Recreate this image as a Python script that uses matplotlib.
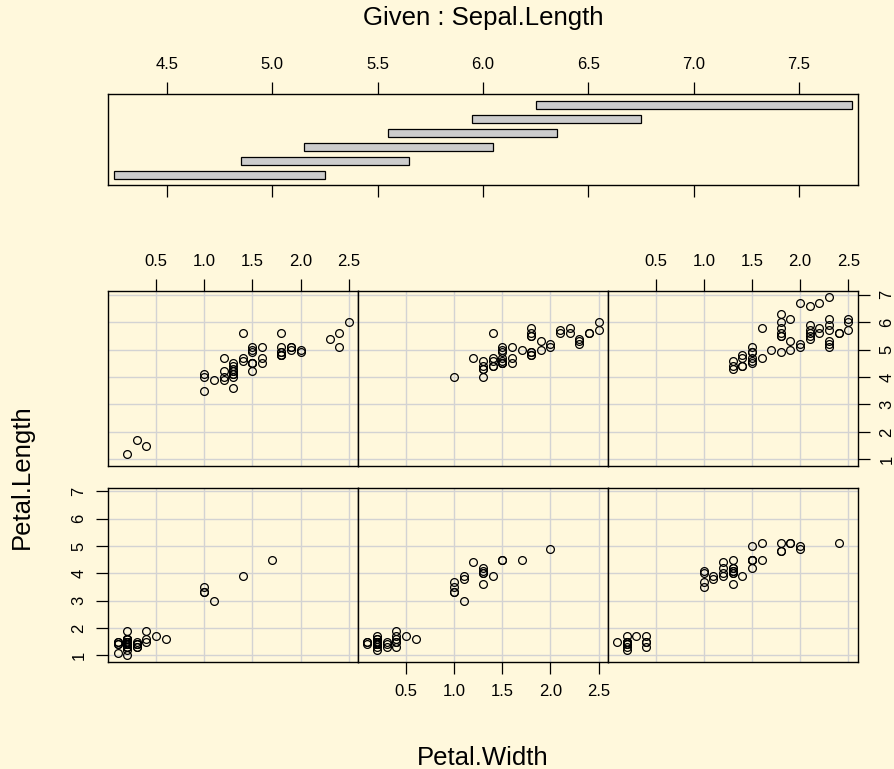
import matplotlib
matplotlib.use("Agg")
import matplotlib.pyplot as plt

plt.rcParams['font.family'] = ['Liberation Sans', 'DejaVu Sans']

# iris measurements, row order as in the dataset
sepal_length = [
    5.1, 4.9, 4.7, 4.6, 5.0, 5.4, 4.6, 5.0, 4.4, 4.9,
    5.4, 4.8, 4.8, 4.3, 5.8, 5.7, 5.4, 5.1, 5.7, 5.1,
    5.4, 5.1, 4.6, 5.1, 4.8, 5.0, 5.0, 5.2, 5.2, 4.7,
    4.8, 5.4, 5.2, 5.5, 4.9, 5.0, 5.5, 4.9, 4.4, 5.1,
    5.0, 4.5, 4.4, 5.0, 5.1, 4.8, 5.1, 4.6, 5.3, 5.0,
    7.0, 6.4, 6.9, 5.5, 6.5, 5.7, 6.3, 4.9, 6.6, 5.2,
    5.0, 5.9, 6.0, 6.1, 5.6, 6.7, 5.6, 5.8, 6.2, 5.6,
    5.9, 6.1, 6.3, 6.1, 6.4, 6.6, 6.8, 6.7, 6.0, 5.7,
    5.5, 5.5, 5.8, 6.0, 5.4, 6.0, 6.7, 6.3, 5.6, 5.5,
    5.5, 6.1, 5.8, 5.0, 5.6, 5.7, 5.7, 6.2, 5.1, 5.7,
    6.3, 5.8, 7.1, 6.3, 6.5, 7.6, 4.9, 7.3, 6.7, 7.2,
    6.5, 6.4, 6.8, 5.7, 5.8, 6.4, 6.5, 7.7, 7.7, 6.0,
    6.9, 5.6, 7.7, 6.3, 6.7, 7.2, 6.2, 6.1, 6.4, 7.2,
    7.4, 7.9, 6.4, 6.3, 6.1, 7.7, 6.3, 6.4, 6.0, 6.9,
    6.7, 6.9, 5.8, 6.8, 6.7, 6.7, 6.3, 6.5, 6.2, 5.9,
]
petal_length = [
    1.4, 1.4, 1.3, 1.5, 1.4, 1.7, 1.4, 1.5, 1.4, 1.5,
    1.5, 1.6, 1.4, 1.1, 1.2, 1.5, 1.3, 1.4, 1.7, 1.5,
    1.7, 1.5, 1.0, 1.7, 1.9, 1.6, 1.6, 1.5, 1.4, 1.6,
    1.6, 1.5, 1.5, 1.4, 1.5, 1.2, 1.3, 1.4, 1.3, 1.5,
    1.3, 1.3, 1.3, 1.6, 1.9, 1.4, 1.6, 1.4, 1.5, 1.4,
    4.7, 4.5, 4.9, 4.0, 4.6, 4.5, 4.7, 3.3, 4.6, 3.9,
    3.5, 4.2, 4.0, 4.7, 3.6, 4.4, 4.5, 4.1, 4.5, 3.9,
    4.8, 4.0, 4.9, 4.7, 4.3, 4.4, 4.8, 5.0, 4.5, 3.5,
    3.8, 3.7, 3.9, 5.1, 4.5, 4.5, 4.7, 4.4, 4.1, 4.0,
    4.4, 4.6, 4.0, 3.3, 4.2, 4.2, 4.2, 4.3, 3.0, 4.1,
    6.0, 5.1, 5.9, 5.6, 5.8, 6.6, 4.5, 6.3, 5.8, 6.1,
    5.1, 5.3, 5.5, 5.0, 5.1, 5.3, 5.5, 6.7, 6.9, 5.0,
    5.7, 4.9, 6.7, 4.9, 5.7, 6.0, 4.8, 4.9, 5.6, 5.8,
    6.1, 6.4, 5.6, 5.1, 5.6, 6.1, 5.6, 5.5, 4.8, 5.4,
    5.6, 5.1, 5.1, 5.9, 5.7, 5.2, 5.0, 5.2, 5.4, 5.1,
]
petal_width = [
    0.2, 0.2, 0.2, 0.2, 0.2, 0.4, 0.3, 0.2, 0.2, 0.1,
    0.2, 0.2, 0.1, 0.1, 0.2, 0.4, 0.4, 0.3, 0.3, 0.3,
    0.2, 0.4, 0.2, 0.5, 0.2, 0.2, 0.4, 0.2, 0.2, 0.2,
    0.2, 0.4, 0.1, 0.2, 0.2, 0.2, 0.2, 0.1, 0.2, 0.2,
    0.3, 0.3, 0.2, 0.6, 0.4, 0.3, 0.2, 0.2, 0.2, 0.2,
    1.4, 1.5, 1.5, 1.3, 1.5, 1.3, 1.6, 1.0, 1.3, 1.4,
    1.0, 1.5, 1.0, 1.4, 1.3, 1.4, 1.5, 1.0, 1.5, 1.1,
    1.8, 1.3, 1.5, 1.2, 1.3, 1.4, 1.4, 1.7, 1.5, 1.0,
    1.1, 1.0, 1.2, 1.6, 1.5, 1.6, 1.5, 1.3, 1.3, 1.3,
    1.2, 1.4, 1.2, 1.0, 1.3, 1.2, 1.3, 1.3, 1.1, 1.3,
    2.5, 1.9, 2.1, 1.8, 2.2, 2.1, 1.7, 1.8, 1.8, 2.5,
    2.0, 1.9, 2.1, 2.0, 2.4, 2.3, 1.8, 2.2, 2.3, 1.5,
    2.3, 2.0, 2.0, 1.8, 2.1, 1.8, 1.8, 1.8, 2.1, 1.6,
    1.9, 2.0, 2.2, 1.5, 1.4, 2.3, 2.4, 1.8, 1.8, 2.1,
    2.4, 2.3, 1.9, 2.3, 2.5, 2.3, 1.9, 2.0, 2.3, 1.8,
]

# overlapping Sepal.Length intervals (lower, upper)
interval_lo = [4.25, 4.85, 5.15, 5.55, 5.95, 6.25]
interval_hi = [5.25, 5.65, 6.05, 6.35, 6.75, 7.75]

given_ticks = [4.5, 5.0, 5.5, 6.0, 6.5, 7.0, 7.5]
x_ticks = [0.5, 1.0, 1.5, 2.0, 2.5]
y_ticks = [1, 2, 3, 4, 5, 6, 7]

BG = '#FFF8DC'
GRID = '#D3D3D3'
W, H = 894, 769
TICK_FS = 12
LAB_FS = 18.5
TICK_LEN = 8.3

fig = plt.figure(figsize=(W / 100, H / 100), dpi=100, facecolor=BG)


def px_axes(x0, y0, x1, y1):
    ax = fig.add_axes([x0 / W, 1 - y1 / H, (x1 - x0) / W, (y1 - y0) / H])
    ax.set_facecolor(BG)
    for s in ax.spines.values():
        s.set_linewidth(1.0)
    ax.tick_params(direction='out', length=TICK_LEN, width=0.9,
                   labelsize=TICK_FS, pad=7.5)
    return ax


# conditioning panel
gax = px_axes(108.3, 94.3, 857.5, 185.0)
for i, (lo, hi) in enumerate(zip(interval_lo, interval_hi)):
    gax.barh(i + 1, hi - lo, left=lo, height=0.56, color='#CCCCCC',
             edgecolor='black', linewidth=0.9)
gax.set_xlim(4.222, 7.778)
gax.set_ylim(0.26, 6.74)
gax.set_xticks(given_ticks)
gax.set_xticklabels([f'{t:.1f}' for t in given_ticks])
gax.tick_params(axis='x', top=True, labeltop=True, bottom=True, labelbottom=False)
gax.set_yticks([])
fig.text(482.9 / W, 1 - 18 / H, 'Given : Sepal.Length', ha='center', va='center',
         fontsize=LAB_FS)

# dependence panels: bottom row holds the first three intervals
cols = [108.3, 358.1, 607.9, 857.5]
rows = [(487.7, 661.7), (291.0, 465.7)]

for k in range(6):
    r, c = divmod(k, 3)
    y0, y1 = rows[r]
    ax = px_axes(cols[c], y0, cols[c + 1], y1)
    lo, hi = interval_lo[k], interval_hi[k]
    xs = [w for w, s in zip(petal_width, sepal_length) if lo <= s <= hi]
    ys = [p for p, s in zip(petal_length, sepal_length) if lo <= s <= hi]
    for v in x_ticks:
        ax.axvline(v, color=GRID, lw=1.0, zorder=1)
    for v in y_ticks:
        ax.axhline(v, color=GRID, lw=1.0, zorder=1)
    ax.plot(xs, ys, 'o', ms=5.6, mfc='none', mec='black', mew=0.9, zorder=3)
    ax.set_xlim(0.004, 2.596)
    ax.set_ylim(0.764, 7.136)
    ax.set_xticks(x_ticks)
    ax.set_xticklabels([f'{t:.1f}' for t in x_ticks])
    ax.set_yticks(y_ticks)
    ax.set_yticklabels([str(t) for t in y_ticks])
    show_top = r == 1 and c != 1
    show_bottom = r == 0 and c == 1
    show_left = r == 0 and c == 0
    show_right = r == 1 and c == 2
    ax.tick_params(axis='x', top=show_top, labeltop=show_top,
                   bottom=show_bottom, labelbottom=show_bottom)
    ax.tick_params(axis='y', left=show_left, labelleft=show_left,
                   right=show_right, labelright=show_right, labelrotation=90)
    for lab in ax.get_yticklabels():
        lab.set_va('center')

fig.text(22 / W, 1 - 476.5 / H, 'Petal.Length', rotation=90, ha='center',
         va='center', fontsize=LAB_FS)
fig.text(482.9 / W, 1 - 765 / H, 'Petal.Width', ha='center', va='baseline',
         fontsize=LAB_FS)

fig.savefig('out.png', dpi=100, facecolor=BG)
